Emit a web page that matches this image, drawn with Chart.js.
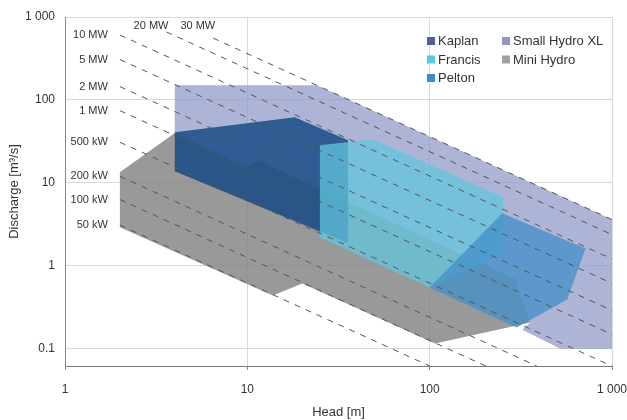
<!DOCTYPE html>
<html><head><meta charset="utf-8">
<script src="https://cdn.jsdelivr.net/npm/chart.js@4.4.1/dist/chart.umd.min.js"></script>
<style>html,body{margin:0;padding:0;background:#fff}#wrap{width:627px;height:420px}</style>
</head><body><div id="wrap"><canvas id="c" width="627" height="420"></canvas></div>
<script>
// ---- tick labels ----
const xTicks = [1, 10, 100, 1000];
const xTickLabels = ['1', '10', '100', '1 000'];
const yTicks = [0.1, 1, 10, 100, 1000];
const yTickLabels = ['0.1', '1', '10', '100', '1 000'];

// ---- series (polygons, head [m] / discharge [m3/s]) ----
const seriesNames = ['Kaplan', 'Francis', 'Pelton', 'Small Hydro XL', 'Mini Hydro'];
const kaplanH = [4, 18.2, 35.7, 35.7, 4];
const kaplanQ = [40.8, 62, 32.7, 1.87, 13.8];
const francisH = [25, 49, 253, 253, 100, 25];
const francisQ = [28.5, 33.6, 6.7, 1.41, 0.548, 2.2];
const peltonH = [100, 250, 715, 569, 300];
const peltonQ = [0.548, 4.3, 1.62, 0.393, 0.18];
const smallXLH = [4, 24.1, 1000, 1000, 521, 322, 357, 295, 11.4, 10, 4];
const smallXLQ = [150, 150, 3.61, 0.1, 0.1, 0.17, 0.207, 0.705, 18.7, 15.4, 40];
const miniH = [2, 4, 10, 11.4, 295, 357, 107, 20, 13.8, 2];
const miniQ = [13.4, 40, 15.4, 18.7, 0.705, 0.207, 0.116, 0.612, 0.44, 2.91];

// ---- constant power lines ----
const powerLabels = ['50 kW', '100 kW', '200 kW', '500 kW', '1 MW', '2 MW', '5 MW', '10 MW', '20 MW', '30 MW'];
const lineStartH = [2, 2, 2, 2, 2, 2, 2, 2, 3.6, 6.5];
const lineStartQ = [3.1, 6.3, 12.0, 30.9, 74.3, 145, 307, 606, 660, 556];
const lineEndH = [100, 203, 387, 1000, 1000, 1000, 1000, 1000, 1000, 1000];
const lineEndQ = [0.062, 0.062, 0.062, 0.0618, 0.149, 0.29, 0.614, 1.21, 2.38, 3.61];

const fillColors = ['rgba(18,72,132,0.82)', 'rgba(98,197,221,0.75)', 'rgba(65,143,202,0.75)', 'rgba(143,151,198,0.72)', 'rgba(128,128,128,0.8)'];
const legendColors = ['#4e6298', '#5bc7e0', '#3f89c7', '#8f97c6', '#a1a1a1'];

const FONT = '"Liberation Sans", Arial, sans-serif';
Chart.defaults.font.family = FONT;
Chart.defaults.color = '#333';

function pts(H, Q) { return H.map((h, i) => ({x: h, y: Q[i]})); }
function polyDs(i, H, Q) {
  return {label: seriesNames[i], data: pts(H, Q), showLine: true, fill: 'shape',
    backgroundColor: fillColors[i], borderWidth: 0, borderColor: 'rgba(0,0,0,0)',
    pointRadius: 0, pointHoverRadius: 0, tension: 0};
}

const lineDs = powerLabels.map((t, i) => ({
  label: t, data: [{x: lineStartH[i], y: lineStartQ[i]}, {x: lineEndH[i], y: lineEndQ[i]}],
  showLine: true, fill: false, borderColor: '#555', borderWidth: 1, borderDash: [6, 6],
  pointRadius: 0, pointHoverRadius: 0, tension: 0
}));

// top-most first
const datasets = [
  ...lineDs,
  polyDs(2, peltonH, peltonQ),
  polyDs(1, francisH, francisQ),
  polyDs(0, kaplanH, kaplanQ),
  polyDs(4, miniH, miniQ),
  polyDs(3, smallXLH, smallXLQ)
];

const overlay = {
  id: 'overlay',
  afterDatasetsDraw(chart) {
    const {ctx, chartArea: a, scales: {x, y}} = chart;
    ctx.save();
    ctx.font = '11px ' + FONT;
    ctx.fillStyle = '#333';
    ctx.textBaseline = 'middle';
    ctx.textAlign = 'right';
    powerLabels.forEach((t, i) => {
      const px = x.getPixelForValue(lineStartH[i]);
      const py = y.getPixelForValue(lineStartQ[i]);
      if (lineStartH[i] > 2.5) ctx.fillText(t, px + 2, a.top + 9);
      else ctx.fillText(t, px - 12, py);
    });
    // legend (two columns, column-major)
    ctx.font = '13px ' + FONT;
    ctx.textAlign = 'left';
    const cols = [[0, 1, 2], [3, 4]];
    const colX = [a.right - 185, a.right - 110];
    cols.forEach((col, c) => {
      col.forEach((idx, r) => {
        const cy = a.top + 24 + r * 18.5;
        ctx.fillStyle = legendColors[idx];
        ctx.fillRect(colX[c], cy - 4, 8, 8);
        ctx.fillStyle = '#333';
        ctx.fillText(seriesNames[idx], colX[c] + 11, cy + 0.5);
      });
    });
    ctx.restore();
  }
};

new Chart(document.getElementById('c'), {
  type: 'scatter',
  data: {datasets},
  options: {
    responsive: false, animation: false, devicePixelRatio: 1,
    layout: {padding: {top: 17, right: 15, left: 0, bottom: 0}},
    plugins: {legend: {display: false}, tooltip: {enabled: false}},
    events: [],
    scales: {
      x: {
        type: 'logarithmic', min: 1, max: 1000,
        afterBuildTicks: s => { s.ticks = xTicks.map(v => ({value: v})); },
        afterFit: s => { s.height = 54; s.paddingLeft = 0; s.paddingRight = 0; },
        ticks: {callback: v => xTickLabels[xTicks.indexOf(v)], font: {size: 12}, color: '#333', padding: 12, autoSkip: false, maxRotation: 0},
        grid: {color: '#d9d9d9', drawTicks: true, tickLength: 4, tickColor: '#888'},
        border: {color: '#777', width: 1},
        title: {display: true, text: 'Head [m]', font: {size: 13}, color: '#333', padding: {top: 0, bottom: 0}}
      },
      y: {
        type: 'logarithmic', min: 0.062, max: 1000,
        afterBuildTicks: s => { s.ticks = yTicks.map(v => ({value: v})); },
        afterFit: s => { s.width = 65; s.paddingTop = 0; s.paddingBottom = 0; },
        ticks: {callback: v => yTickLabels[yTicks.indexOf(v)], font: {size: 12}, color: '#333', padding: 10, autoSkip: false},
        grid: {color: '#d9d9d9', drawTicks: false},
        border: {color: '#888', width: 1},
        title: {display: true, text: 'Discharge [m³/s]', font: {size: 13}, color: '#333', padding: {top: 7, bottom: 0}}
      }
    }
  },
  plugins: [overlay]
});
</script></body></html>
